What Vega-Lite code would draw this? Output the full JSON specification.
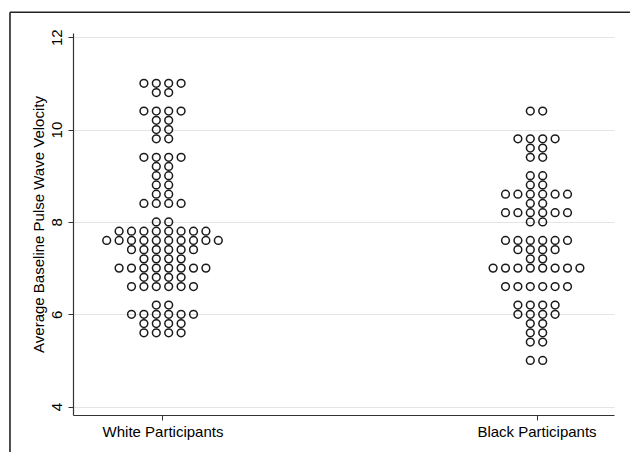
{
  "$schema": "https://vega.github.io/schema/vega-lite/v6.json",
  "width": 541,
  "height": 382,
  "autosize": {"type": "none"},
  "padding": {"left": 73, "top": 33, "right": 16, "bottom": 37},
  "background": "white",
  "config": {"view": {"stroke": null}, "font": "Liberation Sans"},
  "layer": [
    {
      "data": {"values": [
        {"g":"White Participants","v":11},{"g":"White Participants","v":11},{"g":"White Participants","v":11},{"g":"White Participants","v":11},
        {"g":"White Participants","v":10.8},{"g":"White Participants","v":10.8},
        {"g":"White Participants","v":10.4},{"g":"White Participants","v":10.4},{"g":"White Participants","v":10.4},{"g":"White Participants","v":10.4},
        {"g":"White Participants","v":10.2},{"g":"White Participants","v":10.2},
        {"g":"White Participants","v":10},{"g":"White Participants","v":10},
        {"g":"White Participants","v":9.8},{"g":"White Participants","v":9.8},
        {"g":"White Participants","v":9.4},{"g":"White Participants","v":9.4},{"g":"White Participants","v":9.4},{"g":"White Participants","v":9.4},
        {"g":"White Participants","v":9.2},{"g":"White Participants","v":9.2},
        {"g":"White Participants","v":9},{"g":"White Participants","v":9},
        {"g":"White Participants","v":8.8},{"g":"White Participants","v":8.8},
        {"g":"White Participants","v":8.6},{"g":"White Participants","v":8.6},
        {"g":"White Participants","v":8.4},{"g":"White Participants","v":8.4},{"g":"White Participants","v":8.4},{"g":"White Participants","v":8.4},
        {"g":"White Participants","v":8},{"g":"White Participants","v":8},
        {"g":"White Participants","v":7.8},{"g":"White Participants","v":7.8},{"g":"White Participants","v":7.8},{"g":"White Participants","v":7.8},{"g":"White Participants","v":7.8},{"g":"White Participants","v":7.8},{"g":"White Participants","v":7.8},{"g":"White Participants","v":7.8},
        {"g":"White Participants","v":7.6},{"g":"White Participants","v":7.6},{"g":"White Participants","v":7.6},{"g":"White Participants","v":7.6},{"g":"White Participants","v":7.6},{"g":"White Participants","v":7.6},{"g":"White Participants","v":7.6},{"g":"White Participants","v":7.6},{"g":"White Participants","v":7.6},{"g":"White Participants","v":7.6},
        {"g":"White Participants","v":7.4},{"g":"White Participants","v":7.4},{"g":"White Participants","v":7.4},{"g":"White Participants","v":7.4},{"g":"White Participants","v":7.4},{"g":"White Participants","v":7.4},
        {"g":"White Participants","v":7.2},{"g":"White Participants","v":7.2},{"g":"White Participants","v":7.2},{"g":"White Participants","v":7.2},
        {"g":"White Participants","v":7},{"g":"White Participants","v":7},{"g":"White Participants","v":7},{"g":"White Participants","v":7},{"g":"White Participants","v":7},{"g":"White Participants","v":7},{"g":"White Participants","v":7},{"g":"White Participants","v":7},
        {"g":"White Participants","v":6.8},{"g":"White Participants","v":6.8},{"g":"White Participants","v":6.8},{"g":"White Participants","v":6.8},
        {"g":"White Participants","v":6.6},{"g":"White Participants","v":6.6},{"g":"White Participants","v":6.6},{"g":"White Participants","v":6.6},{"g":"White Participants","v":6.6},{"g":"White Participants","v":6.6},
        {"g":"White Participants","v":6.2},{"g":"White Participants","v":6.2},
        {"g":"White Participants","v":6},{"g":"White Participants","v":6},{"g":"White Participants","v":6},{"g":"White Participants","v":6},{"g":"White Participants","v":6},{"g":"White Participants","v":6},
        {"g":"White Participants","v":5.8},{"g":"White Participants","v":5.8},{"g":"White Participants","v":5.8},{"g":"White Participants","v":5.8},
        {"g":"White Participants","v":5.6},{"g":"White Participants","v":5.6},{"g":"White Participants","v":5.6},{"g":"White Participants","v":5.6},
        {"g":"Black Participants","v":10.4},{"g":"Black Participants","v":10.4},
        {"g":"Black Participants","v":9.8},{"g":"Black Participants","v":9.8},{"g":"Black Participants","v":9.8},{"g":"Black Participants","v":9.8},
        {"g":"Black Participants","v":9.6},{"g":"Black Participants","v":9.6},
        {"g":"Black Participants","v":9.4},{"g":"Black Participants","v":9.4},
        {"g":"Black Participants","v":9},{"g":"Black Participants","v":9},
        {"g":"Black Participants","v":8.8},{"g":"Black Participants","v":8.8},
        {"g":"Black Participants","v":8.6},{"g":"Black Participants","v":8.6},{"g":"Black Participants","v":8.6},{"g":"Black Participants","v":8.6},{"g":"Black Participants","v":8.6},{"g":"Black Participants","v":8.6},
        {"g":"Black Participants","v":8.4},{"g":"Black Participants","v":8.4},
        {"g":"Black Participants","v":8.2},{"g":"Black Participants","v":8.2},{"g":"Black Participants","v":8.2},{"g":"Black Participants","v":8.2},{"g":"Black Participants","v":8.2},{"g":"Black Participants","v":8.2},
        {"g":"Black Participants","v":8},{"g":"Black Participants","v":8},
        {"g":"Black Participants","v":7.6},{"g":"Black Participants","v":7.6},{"g":"Black Participants","v":7.6},{"g":"Black Participants","v":7.6},{"g":"Black Participants","v":7.6},{"g":"Black Participants","v":7.6},
        {"g":"Black Participants","v":7.4},{"g":"Black Participants","v":7.4},{"g":"Black Participants","v":7.4},{"g":"Black Participants","v":7.4},
        {"g":"Black Participants","v":7.2},{"g":"Black Participants","v":7.2},
        {"g":"Black Participants","v":7},{"g":"Black Participants","v":7},{"g":"Black Participants","v":7},{"g":"Black Participants","v":7},{"g":"Black Participants","v":7},{"g":"Black Participants","v":7},{"g":"Black Participants","v":7},{"g":"Black Participants","v":7},
        {"g":"Black Participants","v":6.6},{"g":"Black Participants","v":6.6},{"g":"Black Participants","v":6.6},{"g":"Black Participants","v":6.6},{"g":"Black Participants","v":6.6},{"g":"Black Participants","v":6.6},
        {"g":"Black Participants","v":6.2},{"g":"Black Participants","v":6.2},{"g":"Black Participants","v":6.2},{"g":"Black Participants","v":6.2},
        {"g":"Black Participants","v":6},{"g":"Black Participants","v":6},{"g":"Black Participants","v":6},{"g":"Black Participants","v":6},
        {"g":"Black Participants","v":5.8},{"g":"Black Participants","v":5.8},
        {"g":"Black Participants","v":5.6},{"g":"Black Participants","v":5.6},
        {"g":"Black Participants","v":5.4},{"g":"Black Participants","v":5.4},
        {"g":"Black Participants","v":5},{"g":"Black Participants","v":5}
      ]},
      "transform": [
        {"window": [{"op": "row_number", "as": "k"}], "groupby": ["g", "v"]},
        {"joinaggregate": [{"op": "count", "as": "n"}], "groupby": ["g", "v"]},
        {"calculate": "(datum.g === 'White Participants' ? 1 : 2) + (datum.k - (datum.n + 1) / 2) * 0.03316", "as": "xp"}
      ],
      "mark": {"type": "point", "shape": "circle", "filled": false, "stroke": "#1a1a1a", "strokeWidth": 1.5, "size": 60, "opacity": 1},
      "encoding": {
        "x": {
          "field": "xp", "type": "quantitative",
          "scale": {"domain": [0.7607, 2.2072], "nice": false, "zero": false},
          "axis": {
            "values": [1, 2],
            "labelExpr": "datum.value === 1 ? 'White Participants' : 'Black Participants'",
            "title": null, "grid": false,
            "domainColor": "#333", "domainWidth": 1.2,
            "tickColor": "#333", "tickSize": 5, "tickWidth": 1,
            "labelFontSize": 15, "labelColor": "#000", "labelPadding": 4,
            "labelFont": "Liberation Sans", "labelFlush": false, "labelOverlap": false
          }
        },
        "y": {
          "field": "v", "type": "quantitative",
          "scale": {"domain": [3.82, 12.09], "nice": false, "zero": false},
          "axis": {
            "values": [4, 6, 8, 10, 12],
            "title": "Average Baseline Pulse Wave Velocity",
            "titleFontSize": 15, "titleFontWeight": "normal", "titleColor": "#000", "titleFont": "Liberation Sans", "titlePadding": 3,
            "labelAngle": 270, "labelAlign": "center", "labelBaseline": "bottom",
            "labelFontSize": 15, "labelColor": "#000", "labelPadding": 4, "labelFont": "Liberation Sans",
            "labelFlush": false, "labelOverlap": false,
            "grid": true, "gridColor": "#e4e4e4", "gridWidth": 1,
            "domainColor": "#333", "domainWidth": 1.2,
            "tickColor": "#333", "tickSize": 5, "tickWidth": 1
          }
        }
      }
    },
    {
      "data": {"values": [{"b": 1}]},
      "mark": {"type": "rule", "stroke": "#222", "strokeWidth": 1.6},
      "encoding": {
        "x": {"datum": 0.5922, "type": "quantitative"},
        "y": {"datum": 12.54, "type": "quantitative"},
        "y2": {"datum": 2.8}
      }
    },
    {
      "data": {"values": [{"b": 1}]},
      "mark": {"type": "rule", "stroke": "#222", "strokeWidth": 1.6},
      "encoding": {
        "x": {"datum": 0.5922, "type": "quantitative"},
        "x2": {"datum": 2.4},
        "y": {"datum": 12.54, "type": "quantitative"}
      }
    }
  ]
}
